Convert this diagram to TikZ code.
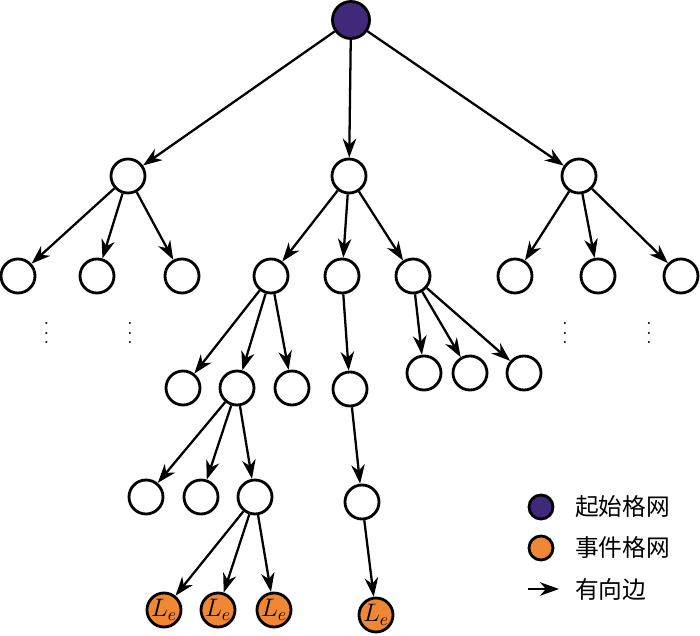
\documentclass[tikz,border=0pt]{standalone}
\usepackage{amssymb,amsmath}
\usepackage{fontspec}
\newfontfamily\cjk{Noto Sans CJK SC}
\usetikzlibrary{arrows.meta}

\definecolor{gridpurple}{RGB}{64,40,122}
\definecolor{eventorange}{RGB}{240,135,52}

\newcommand{\spreaddots}{\vbox{\baselineskip5.2pt\lineskiplimit0pt\hbox{.}\hbox{.}\hbox{.}}}

\tikzset{
  cell/.style={circle, draw, line width=1.6pt, minimum size=0.68cm, inner sep=0pt},
  link/.style={line width=1.3pt, -{Stealth[length=3.8mm, width=2.7mm, inset=1.2mm]}},
}

\begin{document}
\begin{tikzpicture}
\useasboundingbox (0,0) rectangle (14,12.7);

\node[cell, fill=gridpurple, minimum size=0.74cm] (root) at (7.02,12.30) {};

\begin{scope}[cell/.append style={fill=white}]
  \node[cell] (L_A) at ( 2.56,9.18) {};
  \node[cell] (L_B) at ( 6.98,9.18) {};
  \node[cell] (L_C) at (11.58,9.18) {};

  \node[cell] (A_1) at ( 0.36,7.18) {};
  \node[cell] (A_2) at ( 1.94,7.18) {};
  \node[cell] (A_3) at ( 3.64,7.18) {};
  \node[cell] (B_1) at ( 5.42,7.18) {};
  \node[cell] (B_2) at ( 6.84,7.18) {};
  \node[cell] (B_3) at ( 8.26,7.18) {};
  \node[cell] (C_1) at (10.30,7.18) {};
  \node[cell] (C_2) at (11.96,7.18) {};
  \node[cell] (C_3) at (13.62,7.18) {};

  \node[cell] (D_1) at ( 3.66,4.94) {};
  \node[cell] (D_2) at ( 4.74,4.94) {};
  \node[cell] (D_3) at ( 5.84,4.94) {};
  \node[cell] (E_1) at ( 7.00,4.92) {};
  \node[cell] (F_1) at ( 8.48,5.24) {};
  \node[cell] (F_2) at ( 9.40,5.24) {};
  \node[cell] (F_3) at (10.48,5.24) {};

  \node[cell] (G_1) at ( 2.92,2.76) {};
  \node[cell] (G_2) at ( 4.02,2.76) {};
  \node[cell] (G_3) at ( 5.10,2.76) {};
  \node[cell] (H_1) at ( 7.24,2.66) {};
\end{scope}

\begin{scope}[cell/.append style={fill=eventorange, font=\Large}]
  \node[cell] (Le_1) at (3.28,0.50) {$L_e$};
  \node[cell] (Le_2) at (4.36,0.50) {$L_e$};
  \node[cell] (Le_3) at (5.48,0.50) {$L_e$};
  \node[cell] (Le_4) at (7.52,0.40) {$L_e$};
\end{scope}

\begin{scope}[font=\large, inner sep=0pt]
  \node (dots_1) at ( 0.93,6.04) {\spreaddots};
  \node (dots_2) at ( 2.60,6.04) {\spreaddots};
  \node (dots_3) at (11.30,6.04) {\spreaddots};
  \node (dots_4) at (12.98,6.04) {\spreaddots};
\end{scope}

\begin{scope}[link]
\path (root) edge (L_A);
\path (root) edge (L_B);
\path (root) edge (L_C);

\path (L_A) edge (A_1);
\path (L_A) edge (A_2);
\path (L_A) edge (A_3);
\path (L_B) edge (B_1);
\path (L_B) edge (B_2);
\path (L_B) edge (B_3);
\path (L_C) edge (C_1);
\path (L_C) edge (C_2);
\path (L_C) edge (C_3);

\path (B_1) edge (D_1);
\path (B_1) edge (D_2);
\path (B_1) edge (D_3);
\path (B_2) edge (E_1);
\path (B_3) edge (F_1);
\path (B_3) edge (F_2);
\path (B_3) edge (F_3);

\path (D_2) edge (G_1);
\path (D_2) edge (G_2);
\path (D_2) edge (G_3);
\path (E_1) edge (H_1);

\path (G_3) edge (Le_1);
\path (G_3) edge (Le_2);
\path (G_3) edge (Le_3);
\path (H_1) edge (Le_4);
\end{scope}

% legend
\begin{scope}[font=\cjk\fontsize{13.5pt}{16pt}\selectfont]
  \node[cell, fill=gridpurple, minimum size=0.48cm]  (key_start) at (10.82,2.56) {};
  \node[cell, fill=eventorange, minimum size=0.48cm] (key_event) at (10.82,1.74) {};
  \coordinate (key_tail) at (10.56,0.92);
  \coordinate (key_head) at (11.18,0.92);
  \path[link] (key_tail) edge (key_head);
  \node[anchor=west] (txt_start) at (11.38,2.56) {起始格网};
  \node[anchor=west] (txt_event) at (11.38,1.74) {事件格网};
  \node[anchor=west] (txt_edge)  at (11.38,0.92) {有向边};
\end{scope}

\end{tikzpicture}
\end{document}
